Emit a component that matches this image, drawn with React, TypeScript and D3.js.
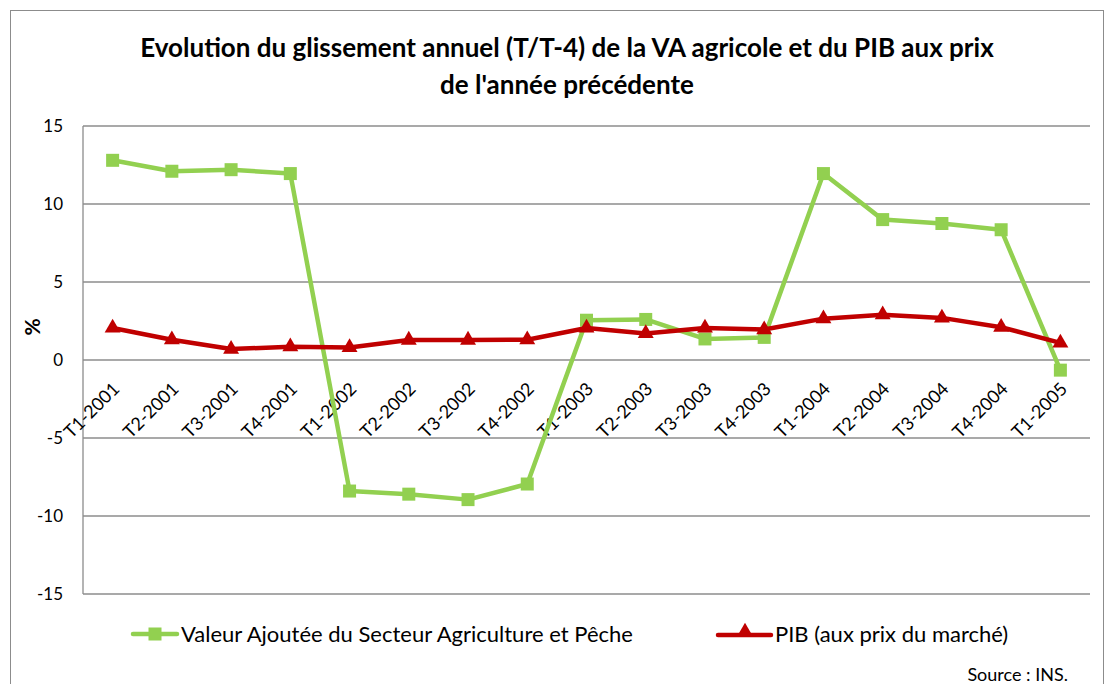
import React from 'react';
import * as d3 from 'd3';

const categories = [
  'T1-2001', 'T2-2001', 'T3-2001', 'T4-2001',
  'T1-2002', 'T2-2002', 'T3-2002', 'T4-2002',
  'T1-2003', 'T2-2003', 'T3-2003', 'T4-2003',
  'T1-2004', 'T2-2004', 'T3-2004', 'T4-2004',
  'T1-2005',
];
const vaAgricole = [12.8, 12.1, 12.2, 11.95, -8.4, -8.6, -8.95, -7.95, 2.55, 2.6, 1.35, 1.45, 11.95, 9.0, 8.75, 8.35, -0.65];
const pib = [2.05, 1.3, 0.7, 0.85, 0.8, 1.28, 1.28, 1.3, 2.05, 1.7, 2.05, 1.95, 2.65, 2.9, 2.7, 2.1, 1.1];
const yTicks = [-15, -10, -5, 0, 5, 10, 15];

const GREEN = '#92D050';
const RED = '#C00000';
const FONT = 'Lato, "Open Sans", sans-serif';

export default function App() {
  const width = 1106;
  const height = 684;
  const plot = { left: 83, right: 1090, top: 126, bottom: 594 };

  const x = d3.scaleBand().domain(categories).range([plot.left, plot.right]);
  const y = d3.scaleLinear().domain([-15, 15]).range([plot.bottom, plot.top]);
  const cx = (c: string) => (x(c) as number) + x.bandwidth() / 2;

  const line = d3.line<number>()
    .x((_, i) => cx(categories[i]))
    .y(d => y(d));

  const tri = d3.symbol().type(d3.symbolTriangle).size(110)();

  return (
    <svg width={width} height={height} style={{ position: 'absolute', left: 0, top: 0, background: '#fff' }}>
      <rect x={10.5} y={10.5} width={1093} height={690} fill="#fff" stroke="#8c8c8c" strokeWidth={1} />

      <text x={567} y={57} textAnchor="middle" fontFamily={FONT} fontWeight="bold" fontSize={26} fill="#000">
        Evolution du glissement annuel (T/T-4) de la VA agricole et du PIB aux prix
      </text>
      <text x={567} y={94} textAnchor="middle" fontFamily={FONT} fontWeight="bold" fontSize={26} fill="#000">
        de l'année précédente
      </text>

      {yTicks.map(t => (
        <g key={t}>
          <line x1={plot.left} x2={plot.right} y1={y(t)} y2={y(t)} stroke="#8c8c8c" strokeWidth={1.3} />
          <text x={63} y={y(t) + 6} textAnchor="end" fontFamily={FONT} fontSize={17} fill="#000">{t}</text>
        </g>
      ))}
      <line x1={plot.left} x2={plot.left} y1={plot.top} y2={plot.bottom} stroke="#8c8c8c" strokeWidth={1.3} />

      <text transform="translate(40,327) rotate(-90)" textAnchor="middle" fontFamily={FONT} fontWeight="bold" fontSize={21} fill="#000">%</text>

      {categories.map(c => (
        <text key={c} transform={`translate(${cx(c) + 8},${y(0) + 30}) rotate(-45)`} textAnchor="end"
          fontFamily={FONT} fontSize={18} fill="#000">{c}</text>
      ))}

      <path d={line(vaAgricole) as string} fill="none" stroke={GREEN} strokeWidth={4.5} strokeLinejoin="round" />
      {vaAgricole.map((v, i) => (
        <rect key={i} x={cx(categories[i]) - 6.5} y={y(v) - 6.5} width={13} height={13} fill={GREEN} />
      ))}

      <path d={line(pib) as string} fill="none" stroke={RED} strokeWidth={4.5} strokeLinejoin="round" />
      {pib.map((v, i) => (
        <path key={i} d={tri as string} transform={`translate(${cx(categories[i])},${y(v)})`} fill={RED} />
      ))}

      <g>
        <line x1={133} x2={177} y1={634} y2={634} stroke={GREEN} strokeWidth={4.5} strokeLinecap="round" />
        <rect x={148.5} y={627.5} width={13} height={13} fill={GREEN} />
        <text x={181} y={642} fontFamily={FONT} fontSize={22} fill="#000">Valeur Ajoutée du Secteur Agriculture et Pêche</text>
      </g>
      <g>
        <line x1={718} x2={771} y1={635} y2={635} stroke={RED} strokeWidth={4.5} strokeLinecap="round" />
        <path d={tri as string} transform="translate(745,632)" fill={RED} />
        <text x={775} y={642} fontFamily={FONT} fontSize={22} fill="#000">PIB (aux prix du marché)</text>
      </g>

      <text x={1068} y={681} textAnchor="end" fontFamily={FONT} fontSize={18} fill="#000">Source : INS.</text>
    </svg>
  );
}
